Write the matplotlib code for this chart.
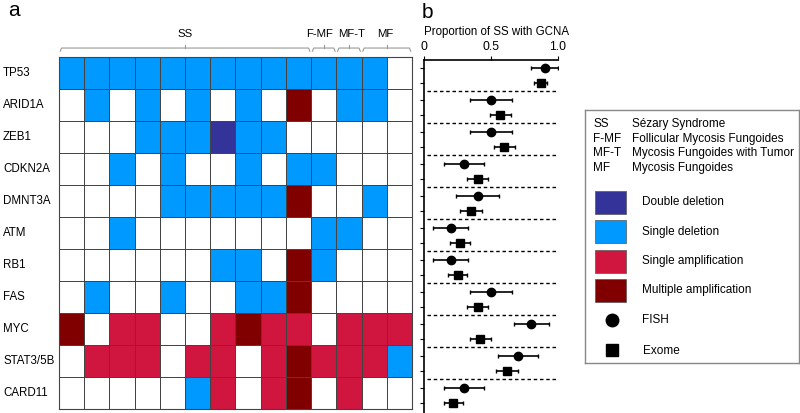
import matplotlib
matplotlib.use("Agg")
import matplotlib.pyplot as plt
import numpy as np
from matplotlib.colors import ListedColormap
import matplotlib.transforms as mtrans

plt.rcParams['font.family'] = ['Liberation Sans', 'DejaVu Sans']

genes = ["TP53", "ARID1A", "ZEB1", "CDKN2A", "DMNT3A", "ATM", "RB1", "FAS",
         "MYC", "STAT3/5B", "CARD11"]

# 0 none, 1 double deletion, 2 single deletion, 3 single amplification, 4 multiple amplification
tp53 = [2, 2, 2, 2, 2, 2, 2, 2, 2, 2, 2, 2, 2, 0]
arid1a = [0, 2, 0, 2, 0, 2, 0, 2, 0, 4, 0, 2, 2, 0]
zeb1 = [0, 0, 0, 2, 2, 2, 1, 2, 2, 0, 0, 0, 0, 0]
cdkn2a = [0, 0, 2, 0, 2, 0, 0, 2, 0, 2, 2, 0, 0, 0]
dmnt3a = [0, 0, 0, 0, 2, 2, 2, 2, 2, 4, 0, 0, 2, 0]
atm = [0, 0, 2, 0, 0, 0, 0, 0, 0, 0, 2, 2, 0, 0]
rb1 = [0, 0, 0, 0, 0, 0, 2, 2, 0, 4, 2, 0, 0, 0]
fas = [0, 2, 0, 0, 2, 0, 0, 2, 2, 4, 0, 0, 0, 0]
myc = [4, 0, 3, 3, 0, 0, 3, 4, 3, 3, 0, 3, 3, 3]
stat3 = [0, 3, 3, 3, 0, 3, 3, 0, 3, 4, 3, 3, 3, 2]
card11 = [0, 0, 0, 0, 0, 2, 3, 0, 3, 4, 0, 3, 0, 0]

groups = ["SS", "F-MF", "MF-T", "MF"]
group_cols = [(0, 10), (10, 11), (11, 12), (12, 14)]

fish = [0.9, 0.5, 0.5, 0.3, 0.4, 0.2, 0.2, 0.5, 0.8, 0.7, 0.3]
fish_err = [0.1, 0.16, 0.16, 0.15, 0.16, 0.13, 0.13, 0.16, 0.13, 0.15, 0.15]
exome = [0.87, 0.57, 0.6, 0.4, 0.35, 0.27, 0.25, 0.4, 0.42, 0.62, 0.22]
exome_err = [0.05, 0.08, 0.08, 0.08, 0.08, 0.075, 0.07, 0.08, 0.08, 0.08, 0.07]

abbrev = ["SS", "F-MF", "MF-T", "MF"]
abbrev_full = ["Sézary Syndrome", "Follicular Mycosis Fungoides",
               "Mycosis Fungoides with Tumor", "Mycosis Fungoides"]
cna_labels = ["Double deletion", "Single deletion", "Single amplification",
              "Multiple amplification"]
colors = ["white", "#333399", "#0099FF", "#D0163F", "#800000"]

fig = plt.figure(figsize=(8, 4.13), dpi=100)
W, H = 800, 413


def px_axes(x0, y0, x1, y1):
    return fig.add_axes([x0 / W, 1 - y1 / H, (x1 - x0) / W, (y1 - y0) / H])


# ---- panel a : heatmap
ax1 = px_axes(59, 57, 412, 409)
M = np.array([tp53, arid1a, zeb1, cdkn2a, dmnt3a, atm, rb1, fas, myc, stat3, card11])
ax1.pcolormesh(M, cmap=ListedColormap(colors), vmin=-0.5, vmax=4.5,
               edgecolors="#444444", linewidth=0.7)
ax1.set_xlim(0, M.shape[1])
ax1.set_ylim(M.shape[0], 0)
ax1.set_xticks([])
ax1.set_yticks([])
for s in ax1.spines.values():
    s.set_color("#444444")
    s.set_linewidth(0.8)

tr = mtrans.blended_transform_factory(fig.transFigure, ax1.transData)
for i, g in enumerate(genes):
    ax1.text(3 / W, i + 0.5, g, transform=tr, ha="left", va="center", fontsize=8.3)

# group brackets (labels nudged a bit so the narrow ones don't collide)
label_shift = [0, -0.15, 0.1, -0.06]
for name, (c0, c1), dx in zip(groups, group_cols, label_shift):
    xa, xb = c0 + 0.05, c1 - 0.05
    ax1.plot([xa, xa + 0.05, xb - 0.05, xb], [-0.18, -0.28, -0.28, -0.18],
             color="#999999", lw=0.8, clip_on=False)
    xm = (c0 + c1) / 2
    ax1.plot([xm, xm], [-0.28, -0.36], color="#999999", lw=0.8, clip_on=False)
    ax1.text(xm + dx, -0.72, name, ha="center", va="center", fontsize=8.2)

fig.text(8 / W, 1 - 11 / H, "a", fontsize=15, va="center")
fig.text(422 / W, 1 - 12 / H, "b", fontsize=15, va="center")

# ---- panel b : proportions
ax2 = px_axes(424, 60, 558, 413)
n = len(genes)
yf = np.arange(n) + 0.25
ye = np.arange(n) + 0.72
ax2.errorbar(fish, yf, xerr=fish_err, fmt="o", color="black", ms=6,
             capsize=1.5, elinewidth=1.2)
ax2.errorbar(exome, ye, xerr=exome_err, fmt="s", color="black", ms=6,
             capsize=1.5, elinewidth=1.2)
for i in range(1, n):
    ax2.plot([0.02, 1.0], [i - 0.04, i - 0.04], color="black", ls=(0, (2.5, 2)),
             lw=1)
ax2.set_xlim(0, 1.0)
ax2.set_ylim(n + 0.03, 0)
ax2.xaxis.tick_top()
ax2.set_xticks([0, 0.5, 1.0])
ax2.set_xticklabels(["0", "0.5", "1.0"], fontsize=8.8)
ax2.tick_params(axis="x", length=3, pad=2)
ax2.set_yticks(np.sort(np.concatenate([yf, ye])))
ax2.set_yticklabels([])
ax2.tick_params(axis="y", length=3)
ax2.spines["right"].set_visible(False)
ax2.spines["bottom"].set_visible(False)
ax2.spines["top"].set_linewidth(1.2)
ax2.spines["left"].set_linewidth(1.2)
fig.text(424 / W, 1 - 32 / H, "Proportion of SS with GCNA", fontsize=8.3,
         va="center", ha="left")

# ---- legend box
ax3 = px_axes(585, 110, 799, 363)
ax3.set_xlim(585, 799)
ax3.set_ylim(363, 110)
ax3.set_xticks([])
ax3.set_yticks([])
for s in ax3.spines.values():
    s.set_color("#888888")
    s.set_linewidth(1)

for i, (a, full) in enumerate(zip(abbrev, abbrev_full)):
    y = 124 + i * 14.7
    ax3.text(593, y, a, fontsize=8.5, va="center")
    ax3.text(632, y, full, fontsize=8.5, va="center")

for i, lab in enumerate(cna_labels):
    y0 = 191 + i * 29.3
    ax3.add_patch(plt.Rectangle((595, y0), 31, 23, facecolor=colors[i + 1],
                                edgecolor="#555555", lw=0.5))
    ax3.text(642, y0 + 11.5, lab, fontsize=8.5, va="center")

ax3.plot([612], [320], "o", color="black", ms=9)
ax3.text(642, 320, "FISH", fontsize=8.5, va="center")
ax3.plot([612], [350], "s", color="black", ms=8)
ax3.text(643, 351, "Exome", fontsize=8.5, va="center")

fig.savefig("out.png", dpi=100)
